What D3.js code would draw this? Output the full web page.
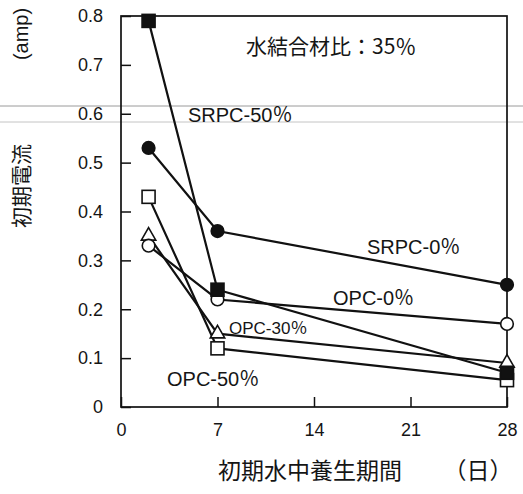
<!DOCTYPE html>
<html>
<head>
<meta charset="utf-8">
<script src="https://cdn.jsdelivr.net/npm/d3@7"></script>
<style>
  html, body { margin: 0; padding: 0; background: #fff; }
  svg { display: block; }
  text { font-family: "Liberation Sans", Arial, "Noto Sans CJK JP", sans-serif; fill: #151515; }
  .jp { font-family: "Noto Sans CJK JP", sans-serif; }
</style>
</head>
<body>
<svg id="chart" width="523" height="494"></svg>
<script>
// Curing period (days) at which the initial current was measured
const days = [2, 7, 28];

// Initial current (amp) for each mix
const srpc50 = [0.79, 0.24, 0.07];
const srpc0  = [0.53, 0.36, 0.25];
const opc0   = [0.33, 0.22, 0.17];
const opc30  = [0.35, 0.15, 0.09];
const opc50  = [0.43, 0.12, 0.055];

const xTicks = [0, 7, 14, 21, 28];
const yTicks = [0, 0.1, 0.2, 0.3, 0.4, 0.5, 0.6, 0.7, 0.8];
const yTickLabels = ["0", "0.1", "0.2", "0.3", "0.4", "0.5", "0.6", "0.7", "0.8"];

const series = [
  { name: "OPC-50％",  values: opc50,  shape: "square",   fill: "#fff" },
  { name: "OPC-30％",  values: opc30,  shape: "triangle", fill: "#fff" },
  { name: "OPC-0％",   values: opc0,   shape: "circle",   fill: "#fff" },
  { name: "SRPC-0％",  values: srpc0,  shape: "circle",   fill: "#111" },
  { name: "SRPC-50％", values: srpc50, shape: "square",   fill: "#111" }
];

const svg = d3.select("#chart");
const plotL = 121, plotR = 507, plotT = 16, plotB = 407;

const x = d3.scaleLinear().domain([0, 28]).range([plotL, plotR]);
const y = d3.scaleLinear().domain([0, 0.8]).range([plotB, plotT]);

// faint horizontal rules across the sheet
svg.append("line").attr("x1", 0).attr("x2", 523).attr("y1", 106).attr("y2", 106)
  .attr("stroke", "#9a9a9a").attr("stroke-width", 1);
svg.append("line").attr("x1", 0).attr("x2", 523).attr("y1", 122).attr("y2", 122)
  .attr("stroke", "#c4c4c4").attr("stroke-width", 1);

// plot frame
svg.append("rect").attr("x", plotL).attr("y", plotT)
  .attr("width", plotR - plotL).attr("height", plotB - plotT)
  .attr("fill", "none").attr("stroke", "#111").attr("stroke-width", 1.7);

// axes with inward ticks
const yAxis = d3.axisLeft(y).tickValues(yTicks)
  .tickFormat((d, i) => yTickLabels[i]).tickSizeInner(-10).tickSizeOuter(0).tickPadding(18);
const gy = svg.append("g").attr("transform", `translate(${plotL},0)`).call(yAxis);
gy.select(".domain").remove();
gy.selectAll("line").attr("stroke", "#111").attr("stroke-width", 1.5);
gy.selectAll("text").attr("font-size", 18).style("font-family", "'Liberation Sans', Arial, sans-serif");

const xAxis = d3.axisBottom(x).tickValues(xTicks).tickFormat(d3.format("d"))
  .tickSizeInner(-10).tickSizeOuter(0).tickPadding(16);
const gx = svg.append("g").attr("transform", `translate(0,${plotB})`).call(xAxis);
gx.select(".domain").remove();
gx.selectAll("line").attr("stroke", "#111").attr("stroke-width", 1.5);
gx.selectAll("text").attr("font-size", 18).style("font-family", "'Liberation Sans', Arial, sans-serif");

// series lines
const line = d3.line().x((d, i) => x(days[i])).y(d => y(d));
series.forEach(s => {
  svg.append("path").datum(s.values).attr("d", line)
    .attr("fill", "none").attr("stroke", "#111").attr("stroke-width", 2.2);
});

// markers
series.forEach(s => {
  const g = svg.append("g");
  s.values.forEach((v, i) => {
    const cx = x(days[i]), cy = y(v);
    if (s.shape === "circle") {
      g.append("circle").attr("cx", cx).attr("cy", cy).attr("r", 6.3)
        .attr("fill", s.fill).attr("stroke", "#111").attr("stroke-width", 1.6);
    } else if (s.shape === "square") {
      g.append("rect").attr("x", cx - 6.5).attr("y", cy - 6.5).attr("width", 13).attr("height", 13)
        .attr("fill", s.fill).attr("stroke", "#111").attr("stroke-width", 1.6);
    } else {
      const sym = d3.symbol().type(d3.symbolTriangle).size(90);
      g.append("path").attr("d", sym()).attr("transform", `translate(${cx},${cy})`)
        .attr("fill", s.fill).attr("stroke", "#111").attr("stroke-width", 1.6);
    }
  });
});

// series labels
const labels = [
  { text: "SRPC-50％", x: 188, y: 122, size: 20 },
  { text: "SRPC-0％",  x: 367, y: 254, size: 20 },
  { text: "OPC-0％",   x: 333, y: 305, size: 20 },
  { text: "OPC-30％",  x: 229, y: 334, size: 17 },
  { text: "OPC-50％",  x: 167, y: 386, size: 20 }
];
labels.forEach(l => {
  svg.append("text").attr("x", l.x).attr("y", l.y).attr("font-size", l.size).text(l.text);
});

// mix condition note
svg.append("text").attr("x", 246).attr("y", 54).attr("font-size", 21)
  .attr("class", "jp").text("水結合材比：35％");

// y-axis title
svg.append("text").attr("font-size", 20)
  .attr("transform", "translate(28,34) rotate(-90)").attr("text-anchor", "middle").text("(amp)");
svg.append("text").attr("class", "jp").attr("font-size", 21)
  .attr("transform", "translate(29,186) rotate(-90)").attr("text-anchor", "middle").text("初期電流");

// x-axis title
svg.append("text").attr("class", "jp").attr("font-size", 23)
  .attr("x", 310).attr("y", 479).attr("text-anchor", "middle").text("初期水中養生期間");
svg.append("text").attr("class", "jp").attr("font-size", 23)
  .attr("x", 478).attr("y", 479).attr("text-anchor", "middle").text("（日）");
</script>
</body>
</html>
